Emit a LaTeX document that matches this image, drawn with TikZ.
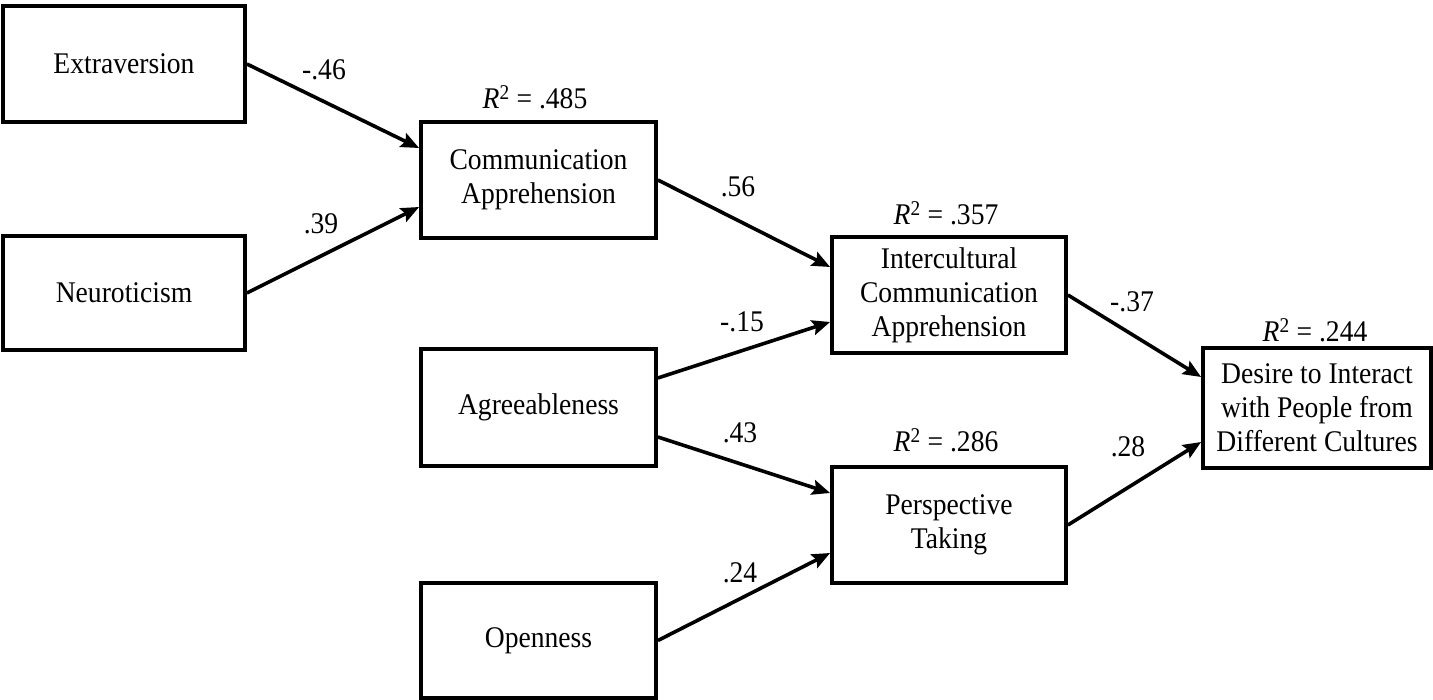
\documentclass[tikz,border=0pt]{standalone}
\usepackage{fontspec}
\setmainfont{Liberation Serif}[FakeStretch=0.92]
\usetikzlibrary{arrows.meta,calc}
\begin{document}
\begin{tikzpicture}[x=1pt,y=-1pt,
  box/.style={draw,line width=3.8pt,inner sep=0pt,align=center,font=\fontsize{30}{34}\selectfont},
  lab/.style={inner sep=0pt,font=\fontsize{30}{34}\selectfont},
  arr/.style={line width=3.6pt,-{Stealth[length=18pt,width=15pt,inset=3pt]}}]
\fill[white] (0,0) rectangle (1433,700);
\useasboundingbox (0,0) rectangle (1433,700);
% boxes
\node[box,minimum width=242pt,minimum height=116pt] (ext) at (124,64) {Extraversion};
\node[box,minimum width=242pt,minimum height=114pt] (neu) at (124,293) {Neuroticism};
\node[box,minimum width=235pt,minimum height=116pt] (ca) at (538.5,180) {Communication\\Apprehension};
\node[box,minimum width=235pt,minimum height=117pt] (agr) at (538.5,407.5) {Agreeableness};
\node[box,minimum width=235pt,minimum height=115pt] (ope) at (538.5,640.5) {Openness};
\node[box,minimum width=234pt,minimum height=116pt] (ica) at (949,295) {Intercultural\\Communication\\Apprehension};
\node[box,minimum width=234pt,minimum height=116pt] (pt) at (949,525) {Perspective\\Taking};
\node[box,minimum width=228pt,minimum height=120pt] (des) at (1317,408) {Desire to Interact\\with People from\\Different Cultures};
% connectors
\draw[arr] (ext.east) -- ($(ca.west)+(0,-32)$);
\draw[arr] (neu.east) -- ($(ca.west)+(0,27)$);
\draw[arr] (ca.east) -- ($(ica.west)+(0,-28)$);
\draw[arr] ($(agr.east)+(0,-29.5)$) -- ($(ica.west)+(0,27)$);
\draw[arr] ($(agr.east)+(0,29.5)$) -- ($(pt.west)+(0,-32)$);
\draw[arr] (ope.east) -- ($(pt.west)+(0,28)$);
\draw[arr] (ica.east) -- ($(des.west)+(0,-31)$);
\draw[arr] (pt.east) -- ($(des.west)+(0,34)$);
% coefficients
\node[lab] (c1) at (324,70) {-.46};
\node[lab] (c2) at (321,224) {.39};
\node[lab] (c3) at (738,187) {.56};
\node[lab] (c4) at (742,322) {-.15};
\node[lab] (c5) at (740,433) {.43};
\node[lab] (c6) at (740,573) {.24};
\node[lab] (c7) at (1132,302) {-.37};
\node[lab] (c8) at (1128,447) {.28};
% R squared
\node[lab] (r1) at (535,97) {\textit{R}\textsuperscript{2} = .485};
\node[lab] (r2) at (946,213) {\textit{R}\textsuperscript{2} = .357};
\node[lab] (r3) at (946,440) {\textit{R}\textsuperscript{2} = .286};
\node[lab] (r4) at (1315,330) {\textit{R}\textsuperscript{2} = .244};
\end{tikzpicture}
\end{document}
